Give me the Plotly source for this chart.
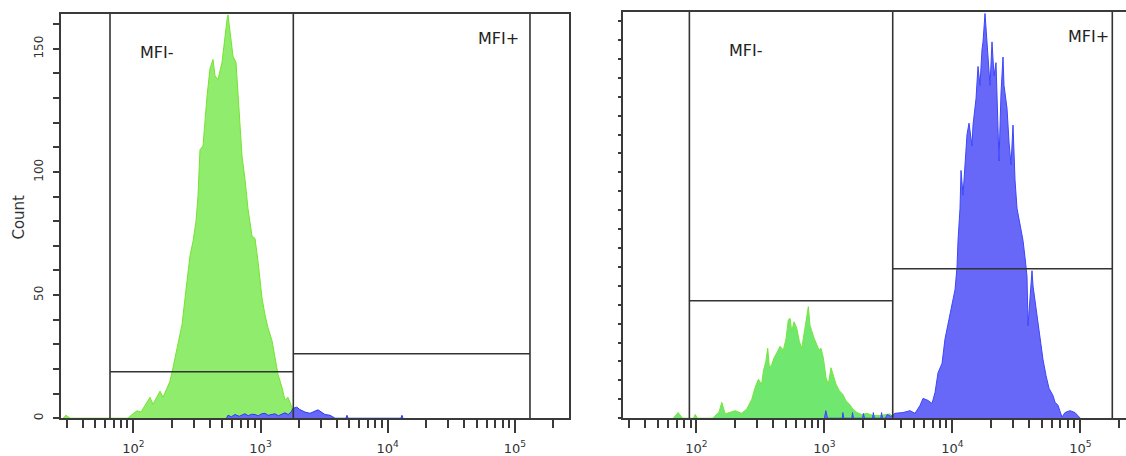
import plotly.graph_objects as go

W, H = 1126, 456

# ---------------- data ----------------
# Left panel: fluorescence intensity (channel value) and event counts
left_green_x = [28, 29.6, 31.8, 90.9, 97.7, 106.9, 114.9, 123.6, 135.3, 142.8, 153.6, 162.2, 171.2,
                184.1, 194.3, 205.2, 220.6, 241.5, 264.4, 279.1, 294.7, 311.1, 322.5, 334.4, 353.2,
                366.2, 379.7, 400.9, 423.3, 438.9, 463.4, 498.1, 516.6, 545.4, 555.4, 575.8, 607.9,
                641.9, 653.7, 690.1, 715.6, 755.4, 797.5, 857.5, 905.3, 955.7, 1027.5, 1084.7,
                1145.5, 1231.5, 1300.2, 1372.8, 1475.7, 1558.1, 1645.2, 1768.4, 1833.9]
left_green_count = [0, 1.2, 0, 0, 1.5, 3, 2.5, 5, 8.5, 5.7, 9, 11, 8.5,
                    12.5, 15, 20.6, 28.6, 38, 55.7, 66, 71.8, 80, 90, 109, 110.6,
                    121, 130.7, 142, 145.7, 139, 137.6, 144.5, 152.5, 161.8, 163.8, 157.8, 147,
                    144.5, 137.6, 118.6, 106.5, 97, 85, 74, 73, 63.7, 48.8, 42,
                    36.7, 31.5, 24.6, 17.8, 12.5, 7.3, 8.5, 4.4, 0]

left_blue_x = [540, 555, 590, 630, 680, 720, 755, 800, 850, 905, 960, 1020, 1085, 1150, 1230,
               1300, 1380, 1460, 1558, 1650, 1740, 1800, 1930, 2040, 2237, 2449, 2831, 3214,
               3520, 3860, 4700, 4787, 4880, 12700, 12940, 13200]
left_blue_count = [0, 1.2, 0.6, 1.5, 0.8, 1.2, 1.8, 1.0, 1.6, 1.5, 1.0, 1.8, 2, 1.2, 1.6,
                   1.8, 1.0, 1.6, 2.2, 1.5, 2.5, 4, 4.5, 3.5, 2.5, 2, 3.4, 1.5,
                   1.2, 0, 0, 1.2, 0, 0, 1.2, 0]

# Right panel
right_green_x = [66, 72, 78, 95, 98, 102, 135, 140, 150, 158, 168, 183, 201, 226, 248, 271, 287,
                 305, 324, 334, 349, 361, 372, 388, 405, 425, 451, 478, 502, 523, 540, 556, 580,
                 609, 638, 666, 694, 720, 750, 773, 802, 835, 872, 909, 942, 982, 1031, 1075,
                 1128, 1176, 1234, 1310, 1392, 1477, 1568, 1667, 1791, 1960, 2145, 2415, 2724,
                 3261, 3400]
right_green_count = [0, 3, 0, 0, 2, 0, 0, 1.4, 3, 8.4, 2.3, 3.1, 4, 2.6, 4.9, 10, 16,
                     20.6, 18, 25, 30, 37, 26.7, 28.4, 32, 34.5, 38, 36, 42, 52, 52.8, 46, 51,
                     47.6, 40.6, 37, 44, 51, 59, 49, 45, 42, 39, 36, 37, 32, 21.4, 18,
                     26.7, 23, 18, 14.5, 12.7, 9.2, 7.5, 4.9, 3.1, 1.9, 2.6, 1.4, 1.4,
                     2.3, 0]

right_blue_x = [1000, 1027, 1060, 1380, 1395, 1420, 1640, 1660, 1690, 1990, 2020, 2060, 2380,
                2415, 2460, 2760, 2800, 2850, 3000, 3100, 3300, 3567, 4119, 4671, 5112, 5595,
                5906, 6462, 6940, 7325, 7732, 8308, 8770, 9257, 9947, 10498, 10882, 11079,
                11485, 11695, 12122, 12565, 13024, 13501, 14250, 14508, 15315, 15875, 16455,
                17060, 17370, 18006, 18665, 19003, 19700, 20422, 21170, 21945, 22750, 23160,
                24010, 24890, 25340, 26740, 27730, 28740, 29800, 30890, 32020, 33800, 35670,
                36980, 38330, 39020, 40460, 41940, 42700, 45060, 46710, 49320, 51120, 53950,
                56950, 61180, 63420, 66940, 71940, 75930, 83070, 90910, 95940, 100000]
right_blue_count = [0, 4, 0, 0, 3, 0, 0, 3, 0, 0, 2.5, 0, 0,
                    3, 0, 0, 3, 0, 0, 2, 1, 2.6, 3, 4, 2.6, 6.8,
                    10.5, 9.4, 7.8, 13.6, 24, 29, 42, 50, 60.7, 68, 80, 94,
                    111, 131, 118, 134, 150, 156, 144, 155, 169, 186, 176,
                    195, 199, 214, 200, 190, 176, 199, 181, 188, 158, 136,
                    172, 191, 176, 164, 146, 134, 155, 126, 111, 103, 94,
                    85, 75, 49, 66, 78, 70, 59, 49, 38, 31, 22.6,
                    15.8, 12, 8.5, 6.8, 0.6, 3, 4, 3, 1, 0]

# Gates: boundaries (intensity) and marker heights (count)
left_gate_bounds = [65.6, 1811, 131400]
left_gate_levels = [18.9, 26.2]
right_gate_bounds = [88.2, 3422, 177800]
right_gate_levels = [62.1, 79.0]
gate_labels = ["MFI-", "MFI+"]

x_major_vals = [100, 1000, 10000, 100000]
x_major_text = ["10<sup>2</sup>", "10<sup>3</sup>", "10<sup>4</sup>", "10<sup>5</sup>"]
x_minor_vals = [d * 10 ** e for e in range(1, 6) for d in range(2, 10)]
left_y_major = [0, 50, 100, 150]

LEFT_YMAX = 164.2
RIGHT_YMAX = 215.0

FONT = "DejaVu Sans"
AX = "#3a3a3a"

fig = go.Figure()

def hist(x, y, xa, ya, fill, line):
    fig.add_trace(go.Scatter(x=x, y=y, xaxis=xa, yaxis=ya, mode="lines", fill="tozeroy",
                             fillcolor=fill, line=dict(color=line, width=1),
                             hoverinfo="skip", showlegend=False))

hist(left_green_x, left_green_count, "x", "y", "rgb(143,236,108)", "rgb(118,226,48)")
hist(left_blue_x, left_blue_count, "x", "y", "rgb(104,104,248)", "rgb(40,60,240)")
hist(right_green_x, right_green_count, "x2", "y2", "rgb(112,232,112)", "rgb(118,228,60)")
hist(right_blue_x, right_blue_count, "x2", "y2", "rgb(104,104,248)", "rgb(60,70,250)")

def gates(bounds, levels, ymax, xa, ya):
    for b in bounds:
        fig.add_trace(go.Scatter(x=[b, b], y=[0, ymax], xaxis=xa, yaxis=ya, mode="lines",
                                 line=dict(color="#333333", width=1.6), hoverinfo="skip",
                                 showlegend=False))
    for i, lv in enumerate(levels):
        fig.add_trace(go.Scatter(x=[bounds[i], bounds[i + 1]], y=[lv, lv], xaxis=xa, yaxis=ya,
                                 mode="lines", line=dict(color="#333333", width=1.6),
                                 hoverinfo="skip", showlegend=False))

gates(left_gate_bounds, left_gate_levels, LEFT_YMAX, "x", "y")
gates(right_gate_bounds, right_gate_levels, RIGHT_YMAX, "x2", "y2")

def px_x(p):
    return p / W

def px_y(p):
    return 1 - p / H

xcommon = dict(type="log", showline=True, linecolor=AX, linewidth=2, mirror=True,
               ticks="outside", tickvals=x_major_vals, ticktext=x_major_text, ticklen=13,
               tickwidth=1.5, tickcolor=AX, showgrid=False, zeroline=False,
               ticklabelstandoff=4,
               tickfont=dict(family=FONT, size=13, color="#333333"),
               minor=dict(tickvals=x_minor_vals, ticklen=8, ticks="outside", tickcolor=AX,
                          tickwidth=1.5, showgrid=False))

fig.update_layout(
    width=W, height=H,
    margin=dict(l=0, r=0, t=0, b=0),
    paper_bgcolor="white", plot_bgcolor="white",
    font=dict(family=FONT, color="#333333"),
    xaxis=dict(xcommon, domain=[px_x(61), px_x(569.3)], range=[1.4316, 5.4277], anchor="y"),
    yaxis=dict(domain=[px_y(421), px_y(14)], range=[0, LEFT_YMAX], anchor="x",
               showline=True, linecolor=AX, linewidth=2, mirror=True,
               ticks="outside", tickvals=left_y_major, ticklen=6, tickwidth=1.5, tickcolor=AX,
               tickangle=-90, ticklabelstandoff=5,
               tickfont=dict(family=FONT, size=12, color="#333333"),
               minor=dict(dtick=10, tick0=0, ticklen=6, ticks="outside", tickcolor=AX,
                          tickwidth=1.5, showgrid=False),
               showgrid=False, zeroline=False),
    xaxis2=dict(xcommon, domain=[px_x(622.7), 1.0], range=[1.4245, 5.357], anchor="y2"),
    yaxis2=dict(domain=[px_y(421), px_y(11.7)], range=[0, RIGHT_YMAX], anchor="x2",
                showline=True, linecolor=AX, linewidth=2, mirror=False,
                ticks="outside", dtick=10, tick0=0, ticklen=3, tickwidth=1.5, tickcolor=AX,
                showticklabels=False, showgrid=False, zeroline=False),
)

annots = [
    dict(text=gate_labels[0], x=px_x(138), y=px_y(53)),
    dict(text=gate_labels[1], x=px_x(476), y=px_y(38.5)),
    dict(text=gate_labels[0], x=px_x(727), y=px_y(50.5)),
    dict(text=gate_labels[1], x=px_x(1066), y=px_y(36.5)),
]
for a in annots:
    fig.add_annotation(xref="paper", yref="paper", xanchor="left", yanchor="middle",
                       showarrow=False, font=dict(family=FONT, size=16, color="#222222"), **a)

fig.add_annotation(xref="paper", yref="paper", x=px_x(19), y=px_y(219), text="Count",
                   textangle=-90, showarrow=False, xanchor="center", yanchor="middle",
                   font=dict(family=FONT, size=15, color="#333333"))

fig.write_html("out.html")
